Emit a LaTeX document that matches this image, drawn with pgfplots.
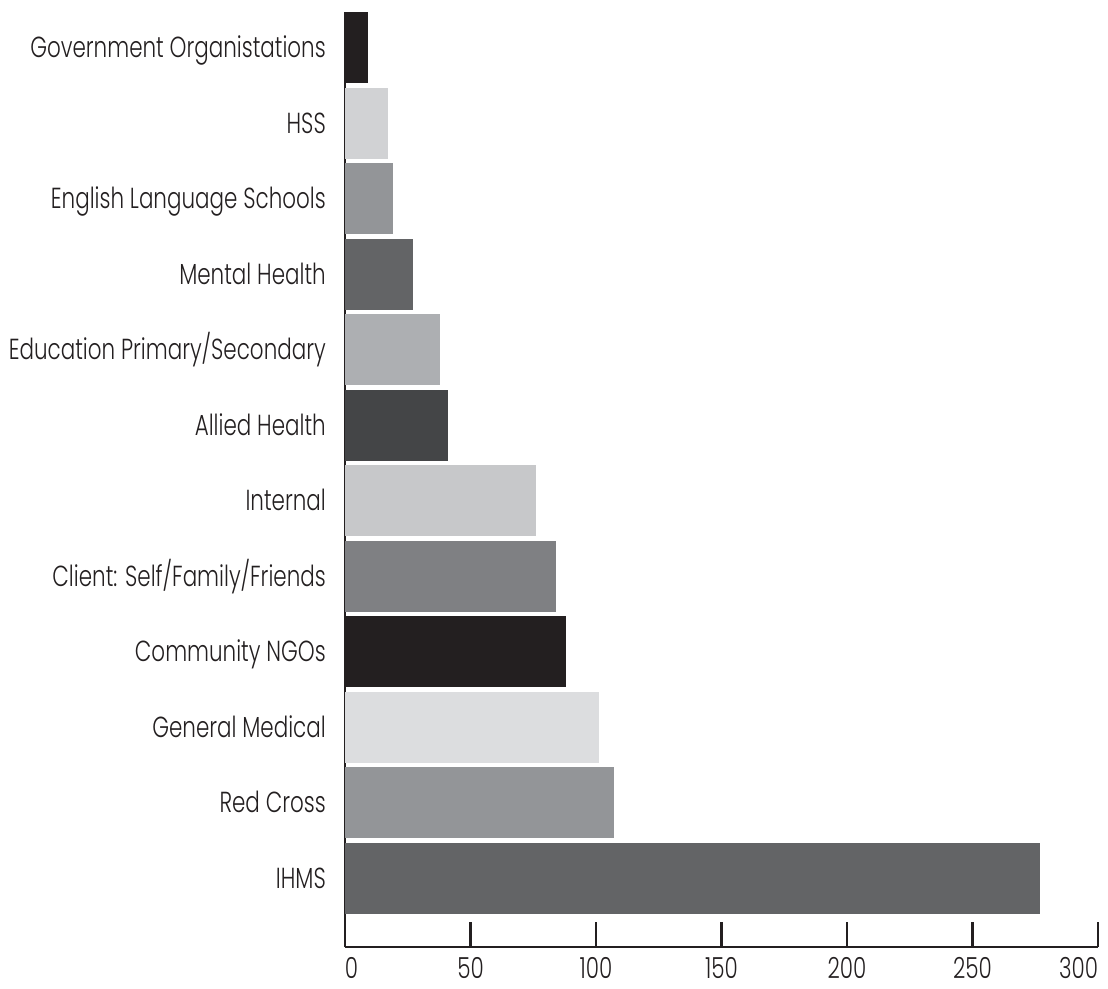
\documentclass[border=0pt]{standalone}
\usepackage{pgfplots}
\pgfplotsset{compat=1.18}
\usepackage{fontspec}
\setmainfont{Poppins Light}[FakeStretch=0.74]
\definecolor{k100}{HTML}{231F20}
\definecolor{k90}{HTML}{444547}
\definecolor{k75}{HTML}{636466}
\definecolor{k60}{HTML}{7F8083}
\definecolor{k50}{HTML}{939598}
\definecolor{k38}{HTML}{ADAFB2}
\definecolor{k25}{HTML}{C7C8CA}
\definecolor{k20}{HTML}{D1D2D4}
\definecolor{k15}{HTML}{DCDDDF}
\begin{document}
\fontsize{29}{34}\selectfont
\begin{tikzpicture}
\begin{axis}[
  at={(0,0)}, anchor=south west,
  scale only axis, width=753pt, height=935pt,
  xmin=0, xmax=300, ymin=0.093, ymax=12.472,
  axis x line=bottom, axis y line=left,
  axis line style={-, line width=2.8pt, color=k100},
  xtick={0,50,...,300}, tick align=inside, major tick length=25pt,
  xtick style={line width=2.8pt, color=k100},
  xticklabels={\rlap{0}, 50, 100, 150, 200, 250, \llap{300}},
  ytick={1,...,12}, ytick style={draw=none},
  yticklabels={IHMS, Red Cross, General Medical, Community NGOs, Client: Self/Family/Friends, Internal, Allied Health, Education Primary/Secondary, Mental Health, English Language Schools, HSS, Government Organistations},
  /pgf/number format/assume math mode=true,
  tick label style={font=\fontsize{29}{34}\selectfont, text=k100},
  yticklabel style={anchor=east, inner sep=0pt, xshift=-19pt, text height=20pt, text depth=0pt},
  xticklabel style={anchor=north, inner sep=0pt, yshift=-11pt, text height=20pt, text depth=0pt},
  every axis plot/.append style={xbar, bar shift=0pt, bar width=71pt, draw=none},
  clip=false,
]
\addplot[fill=k75]  coordinates {(277,1)};
\addplot[fill=k50]  coordinates {(107,2)};
\addplot[fill=k15]  coordinates {(101,3)};
\addplot[fill=k100] coordinates {(88,4)};
\addplot[fill=k60]  coordinates {(84,5)};
\addplot[fill=k25]  coordinates {(76,6)};
\addplot[fill=k90]  coordinates {(41,7)};
\addplot[fill=k38]  coordinates {(38,8)};
\addplot[fill=k75]  coordinates {(27,9)};
\addplot[fill=k50]  coordinates {(19,10)};
\addplot[fill=k20]  coordinates {(17,11)};
\addplot[fill=k100] coordinates {(9,12)};
\end{axis}
\pgfresetboundingbox
\path (-345pt,-41pt) rectangle (763pt,947pt);
\end{tikzpicture}
\end{document}
